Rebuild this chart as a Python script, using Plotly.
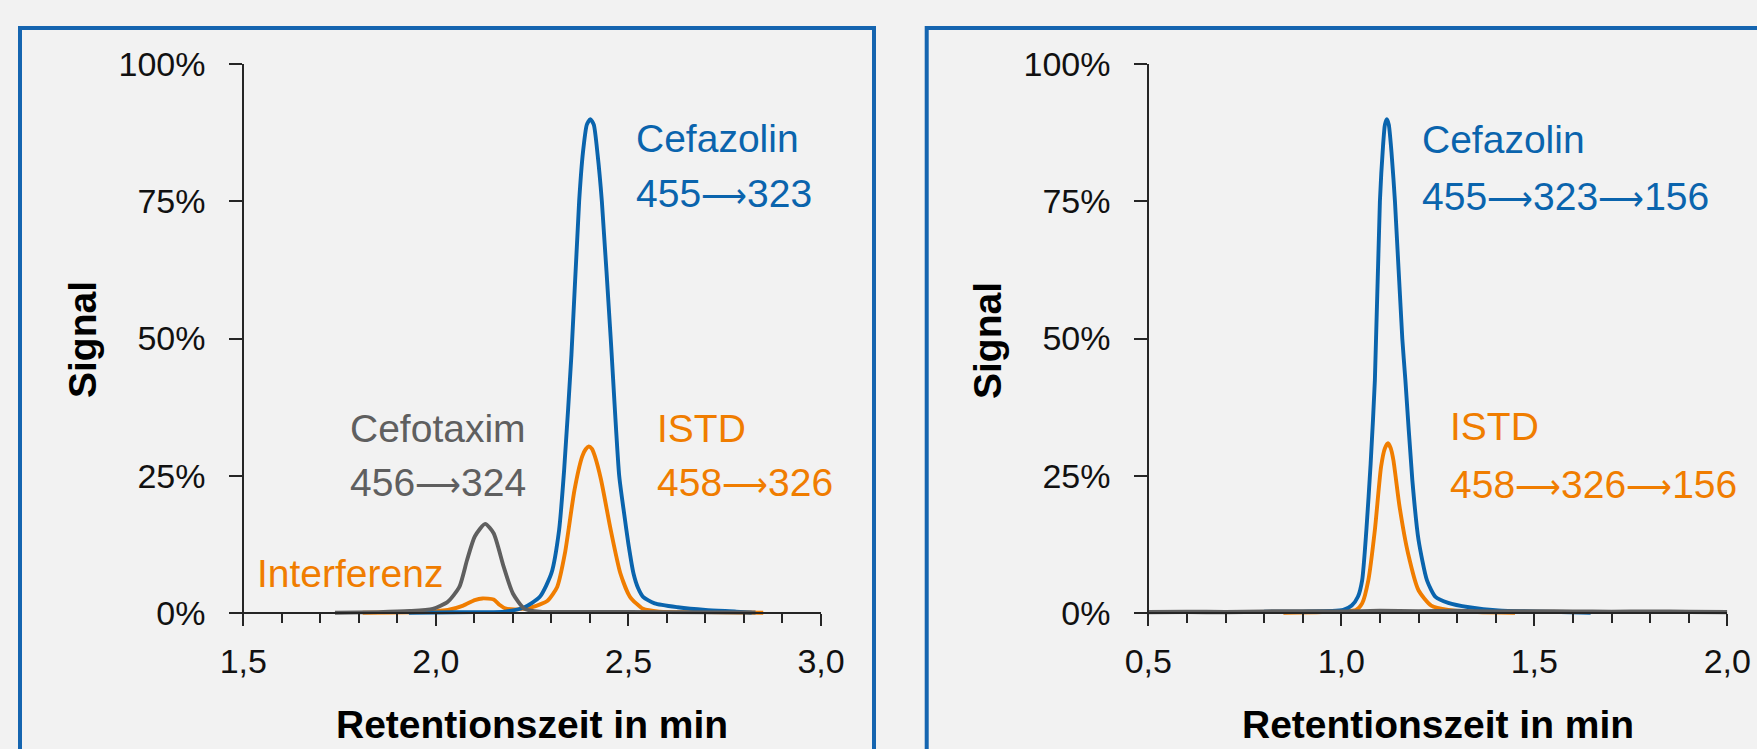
import plotly.graph_objects as go

W, H = 1757, 749

# ---------------- data ----------------
# Left panel (Cefazolin 455->323, ISTD 458->326, Cefotaxim 456->324)
left_blue_t = [1.93, 2.00, 2.10, 2.18, 2.23, 2.27, 2.30, 2.32, 2.333, 2.352, 2.372, 2.382, 2.392, 2.401,
               2.410, 2.420, 2.431, 2.454, 2.476, 2.489, 2.50, 2.513, 2.525, 2.538, 2.568, 2.628, 2.70, 2.78, 2.82]
left_blue_v = [0, 0.05, 0.1, 0.2, 1.0, 2.9, 7.2, 15.1, 26, 47, 75, 84, 89, 90,
               89, 83.5, 75, 50, 25, 18, 12.5, 7.2, 4.5, 2.9, 1.7, 1.0, 0.5, 0.2, 0]

left_orange_t = [1.81, 1.95, 2.031, 2.071, 2.101, 2.121, 2.150, 2.166, 2.18, 2.21, 2.25, 2.29, 2.315,
                 2.335, 2.360, 2.38, 2.389, 2.397, 2.405, 2.413, 2.429, 2.454, 2.479, 2.504, 2.538, 2.58,
                 2.70, 2.85]
left_orange_v = [0, 0.1, 0.5, 1.3, 2.3, 2.6, 2.4, 1.4, 0.8, 0.6, 1.0, 2.2, 4.7,
                 10.8, 22.4, 28.5, 29.8, 30.3, 29.9, 28.5, 24.2, 15.1, 7.2, 2.9, 0.7, 0.2,
                 0.1, 0]

left_gray_t = [1.738, 1.85, 1.932, 1.992, 2.031, 2.061, 2.081, 2.101, 2.128, 2.150, 2.176, 2.200,
               2.230, 2.27, 2.40, 2.60, 2.83]
left_gray_v = [0, 0.1, 0.3, 0.7, 2.0, 4.7, 9.6, 13.9, 16.2, 14.5, 8.4, 3.5,
               0.7, 0.2, 0.15, 0.1, 0.05]

# Right panel (Cefazolin 455->323->156, ISTD 458->326->156)
right_blue_t = [0.80, 0.90, 1.005, 1.027, 1.043, 1.054, 1.065, 1.076, 1.087, 1.100, 1.108, 1.113, 1.118,
                1.123, 1.130, 1.139, 1.158, 1.166, 1.184, 1.200, 1.222, 1.244, 1.277, 1.331, 1.407,
                1.516, 1.646]
right_blue_v = [0.2, 0.2, 0.5, 1.3, 2.9, 5.9, 15.1, 27.2, 42.4, 75, 85, 89, 90,
                89, 84, 75, 50, 42.4, 24.2, 13.3, 5.9, 2.9, 1.8, 1.0, 0.4,
                0.2, 0]

right_orange_t = [0.85, 0.95, 1.038, 1.054, 1.070, 1.087, 1.103, 1.113, 1.121, 1.128, 1.135, 1.151,
                  1.173, 1.200, 1.233, 1.277, 1.353, 1.45]
right_orange_v = [0, 0.1, 0.5, 1.7, 5.9, 15.1, 26.6, 30.0, 30.9, 30.0, 27.8, 19.3,
                  10.8, 4.1, 1.3, 0.5, 0.1, 0]

right_gray_t = [0.50, 0.60, 0.70, 0.80, 0.90, 1.00, 1.10, 1.20, 1.30, 1.40, 1.50, 1.60, 1.70, 1.80, 1.90, 2.00]
right_gray_v = [0.1, 0.15, 0.1, 0.2, 0.25, 0.2, 0.3, 0.25, 0.3, 0.2, 0.25, 0.2, 0.15, 0.2, 0.15, 0.1]

left_xticks = [1.5, 2.0, 2.5, 3.0]
left_xlabels = ["1,5", "2,0", "2,5", "3,0"]
right_xticks = [0.5, 1.0, 1.5, 2.0]
right_xlabels = ["0,5", "1,0", "1,5", "2,0"]
yticks = [0, 25, 50, 75, 100]
ylabels = ["0%", "25%", "50%", "75%", "100%"]

x_title = "Retentionszeit in min"
y_title = "Signal"

ARROW = '<span style="font-size:32px">⟶</span>'
left_labels = [("Cefazolin", ["455", "323"], "blue"), ("ISTD", ["458", "326"], "orange"),
               ("Cefotaxim", ["456", "324"], "gray"), ("Interferenz", None, "orange")]
right_labels = [("Cefazolin", ["455", "323", "156"], "blue"), ("ISTD", ["458", "326", "156"], "orange")]

# ---------------- style ----------------
BLUE = "#0A64AD"
ORANGE = "#F07D00"
GRAY = "#5F5F5F"
BOX = "#1565B0"
BG = "#F2F2F2"
AX = "#262626"
FONT = "Liberation Sans, Arial, sans-serif"
COL = {"blue": BLUE, "orange": ORANGE, "gray": GRAY}

def fx(px):
    return px / W

def fy(py):
    return 1 - py / H

# pixel geometry
Y100, Y0 = 64.3, 612.7
PPU = (Y0 - Y100) / 100.0
YMIN = -1.0
ybot = Y0 - YMIN * PPU
L_X0, L_X1 = 243.3, 821.0
R_X0, R_X1 = 1148.3, 1727.3

fig = go.Figure()

def add_line(t, v, color, xa, ya, width=3.9):
    fig.add_trace(go.Scatter(x=t, y=v, mode="lines", xaxis=xa, yaxis=ya,
                             line=dict(color=color, width=width, shape="spline", smoothing=0.6),
                             hoverinfo="skip", showlegend=False))

add_line(left_orange_t, left_orange_v, ORANGE, "x", "y")
add_line(left_blue_t, left_blue_v, BLUE, "x", "y")
add_line(left_gray_t, left_gray_v, GRAY, "x", "y")
add_line(right_orange_t, right_orange_v, ORANGE, "x2", "y2")
add_line(right_blue_t, right_blue_v, BLUE, "x2", "y2")
add_line(right_gray_t, right_gray_v, GRAY, "x2", "y2", width=4.4)

TICKFONT = dict(family=FONT, size=34, color="#111111")

def xaxis(x0, x1, rng, tv, tt):
    return dict(domain=[fx(x0), fx(x1)], range=rng, anchor="free", position=fy(Y0),
                automargin=False,
                showline=True, linecolor=AX, linewidth=2, showgrid=False, zeroline=False,
                tickmode="array", tickvals=tv, ticktext=tt, ticks="outside", ticklen=12,
                tickwidth=2, tickcolor=AX,
                minor=dict(dtick=0.1, tick0=rng[0], ticks="outside", ticklen=9, tickwidth=2,
                           tickcolor=AX, showgrid=False),
                tickfont=TICKFONT, ticklabelstandoff=6)

def yaxis(xpos):
    return dict(domain=[fy(ybot), fy(Y100)], range=[YMIN, 100], anchor="free", position=xpos,
                automargin=False,
                showline=True, linecolor=AX, linewidth=2, showgrid=False, zeroline=False,
                tickmode="array", tickvals=yticks, ticktext=ylabels, ticks="outside",
                ticklen=13, tickwidth=2, tickcolor=AX,
                tickfont=TICKFONT, ticklabelstandoff=17)

fig.update_layout(
    width=W, height=H, margin=dict(l=0, r=0, t=0, b=0, pad=0, autoexpand=False),
    paper_bgcolor=BG, plot_bgcolor=BG, showlegend=False,
    xaxis=xaxis(L_X0, L_X1, [1.5, 3.0], left_xticks, left_xlabels),
    yaxis=yaxis(fx(L_X0)),
    xaxis2=xaxis(R_X0, R_X1, [0.5, 2.0], right_xticks, right_xlabels),
    yaxis2=yaxis(fx(R_X0)),
)

# panel frames
fig.add_shape(type="rect", xref="paper", yref="paper", x0=fx(20), x1=fx(874), y0=fy(760), y1=fy(28),
              line=dict(color=BOX, width=4), layer="below")
fig.add_shape(type="rect", xref="paper", yref="paper", x0=fx(926.7), x1=fx(1770), y0=fy(760), y1=fy(28),
              line=dict(color=BOX, width=4), layer="below")

def text(px, py, s, color, size=39, bold=False, angle=0, xanchor="left"):
    fig.add_annotation(x=fx(px), y=fy(py), xref="paper", yref="paper", text=("<b>%s</b>" % s) if bold else s,
                       showarrow=False, xanchor=xanchor, yanchor="middle", textangle=angle,
                       font=dict(family=FONT, size=size, color=color))

# axis titles
text(82, 340, y_title, "#000000", size=39, bold=True, angle=-90, xanchor="center")
text(987, 340, y_title, "#000000", size=39, bold=True, angle=-90, xanchor="center")
text((L_X0 + L_X1) / 2, 724, x_title, "#000000", size=39, bold=True, xanchor="center")
text((R_X0 + R_X1) / 2, 724, x_title, "#000000", size=39, bold=True, xanchor="center")

# series labels
def label_set(labels, positions):
    for (name, trans, c), (px, py1, py2) in zip(labels, positions):
        text(px, py1, name, COL[c])
        if trans:
            text(px, py2, ARROW.join(trans), COL[c])

label_set(left_labels, [(634, 138, 193), (655, 428, 483), (348, 428, 483), (255, 573, None)])
label_set(right_labels, [(1420, 139, 196), (1448, 426, 484)])

fig.write_html("out.html", config={"displayModeBar": False},
               post_script="document.body.style.margin='0';")
